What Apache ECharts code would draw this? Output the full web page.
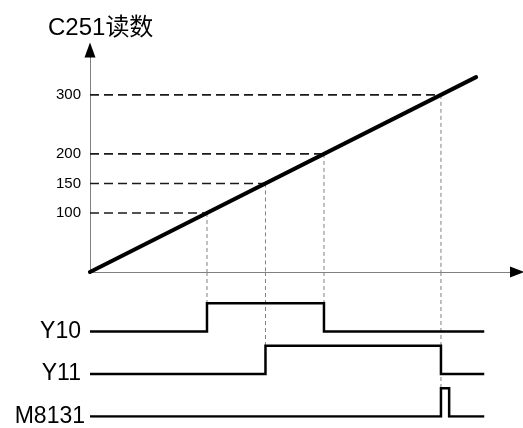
<!DOCTYPE html>
<html>
<head>
<meta charset="utf-8">
<script src="https://cdn.jsdelivr.net/npm/echarts@6/dist/echarts.min.js"></script>
<style>
  html, body { margin: 0; padding: 0; background: #fff; }
  #chart { width: 523px; height: 428px; }
</style>
</head>
<body>
<div id="chart"></div>
<script>
// Counter C251 grows linearly with time; the outputs switch at preset counts.
const countTicks = [100, 150, 200, 300];
const counterTimes = [0, 330];
const counterValues = [0, 330];

// Output timing rows (time, logic level)
const signalNames = ['Y10', 'Y11', 'M8131'];
const y10Times = [0, 100, 100, 200, 200, 337];
const y10Levels = [0, 0, 1, 1, 0, 0];
const y11Times = [0, 150, 150, 300, 300, 337];
const y11Levels = [0, 0, 1, 1, 0, 0];
const m8131Times = [0, 300, 300, 307, 307, 337];
const m8131Levels = [0, 0, 1, 1, 0, 0];
// which output row each preset count drops its guide line to
const guideTargets = ['Y10', 'Y11', 'Y10', 'M8131'];

const FONT = "'Liberation Sans', Arial, 'Noto Sans CJK SC', sans-serif";
const rowBase = { 'Y10': 3, 'Y11': 1.5, 'M8131': 0 };
const signalData = {
  'Y10': [y10Times, y10Levels],
  'Y11': [y11Times, y11Levels],
  'M8131': [m8131Times, m8131Levels]
};
const T_MAX = 365, COUNT_MAX = 376, ROW_MAX = 5.1;

const series = [];

// horizontal guides from the count axis to the counter line
countTicks.forEach(v => {
  series.push({
    type: 'line', xAxisIndex: 0, yAxisIndex: 0, symbol: 'none', silent: true,
    data: [[0, v], [v, v]],
    lineStyle: { color: '#1a1a1a', width: 1.6, type: [9, 5] }, z: 2
  });
});
// vertical guides: down through the counter plot, then into the timing rows
countTicks.forEach((v, i) => {
  series.push({
    type: 'line', xAxisIndex: 0, yAxisIndex: 0, symbol: 'none', silent: true,
    data: [[v, v], [v, 0]],
    lineStyle: { color: '#808080', width: 1, type: [4, 3] }, z: 2
  });
  series.push({
    type: 'line', xAxisIndex: 1, yAxisIndex: 2, symbol: 'none', silent: true,
    data: [[v, ROW_MAX], [v, rowBase[guideTargets[i]] + 1]],
    lineStyle: { color: '#808080', width: 1, type: [4, 3] }, z: 2
  });
});
// counter value
series.push({
  type: 'line', xAxisIndex: 0, yAxisIndex: 0, symbol: 'none', silent: true,
  data: counterTimes.map((t, i) => [t, counterValues[i]]),
  lineStyle: { color: '#000', width: 4, cap: 'round' }, z: 5
});
// output waveforms
signalNames.forEach(name => {
  const [ts, ls] = signalData[name];
  series.push({
    type: 'line', xAxisIndex: 1, yAxisIndex: 2, symbol: 'none', silent: true,
    data: ts.map((t, i) => [t, ls[i] + rowBase[name]]),
    lineStyle: { color: '#000', width: 2.5, join: 'miter' }, z: 5
  });
});

const chart = echarts.init(document.getElementById('chart'), null, { renderer: 'canvas' });
chart.setOption({
  animation: false,
  backgroundColor: '#fff',
  title: {
    text: 'C251读数', left: 43, top: 11,
    textStyle: { fontFamily: FONT, fontSize: 24, fontWeight: 'normal', color: '#000' }
  },
  grid: [
    { left: 90, top: 50, width: 427, height: 222 },
    { left: 90, top: 272, width: 427, height: 148 }
  ],
  xAxis: [
    {
      gridIndex: 0, type: 'value', min: 0, max: T_MAX,
      axisLine: { show: true, lineStyle: { color: '#808080', width: 1 } },
      axisTick: { show: false }, axisLabel: { show: false }, splitLine: { show: false }
    },
    {
      gridIndex: 1, type: 'value', min: 0, max: T_MAX, show: false
    },
    {
      // arrow head of the time axis
      gridIndex: 0, type: 'value', min: 0, max: T_MAX, position: 'bottom',
      axisLine: { show: true, symbol: ['none', 'triangle'], symbolSize: [11, 14],
        lineStyle: { color: '#000', width: 0 } },
      axisTick: { show: false }, axisLabel: { show: false }, splitLine: { show: false }
    }
  ],
  yAxis: [
    {
      gridIndex: 0, type: 'value', min: 0, max: COUNT_MAX,
      axisLine: { show: true, lineStyle: { color: '#808080', width: 1 } },
      axisTick: { show: false }, splitLine: { show: false },
      axisLabel: {
        show: true, customValues: countTicks, margin: 9,
        fontFamily: FONT, fontSize: 15, color: '#000'
      }
    },
    {
      // arrow head of the count axis
      gridIndex: 0, type: 'value', min: 0, max: COUNT_MAX, position: 'left',
      axisLine: { show: true, symbol: ['none', 'triangle'], symbolSize: [11, 15],
        lineStyle: { color: '#000', width: 0 } },
      axisTick: { show: false }, axisLabel: { show: false }, splitLine: { show: false }
    },
    {
      gridIndex: 1, type: 'value', min: 0, max: ROW_MAX,
      axisLine: { show: false }, axisTick: { show: false }, splitLine: { show: false },
      axisLabel: {
        show: true, margin: 5,
        customValues: signalNames.map(n => rowBase[n]),
        formatter: v => {
          const n = signalNames.find(s => rowBase[s] === v);
          return n === 'M8131' ? '{m|' + n + '}' : '{y|' + n + '}';
        },
        rich: {
          y: { fontFamily: FONT, fontSize: 23, color: '#000', padding: [0, 4, 0, 0] },
          m: { fontFamily: FONT, fontSize: 23, color: '#000', padding: [0, 0, 0, 0] }
        }
      }
    }
  ],
  series: series
});
</script>
</body>
</html>
